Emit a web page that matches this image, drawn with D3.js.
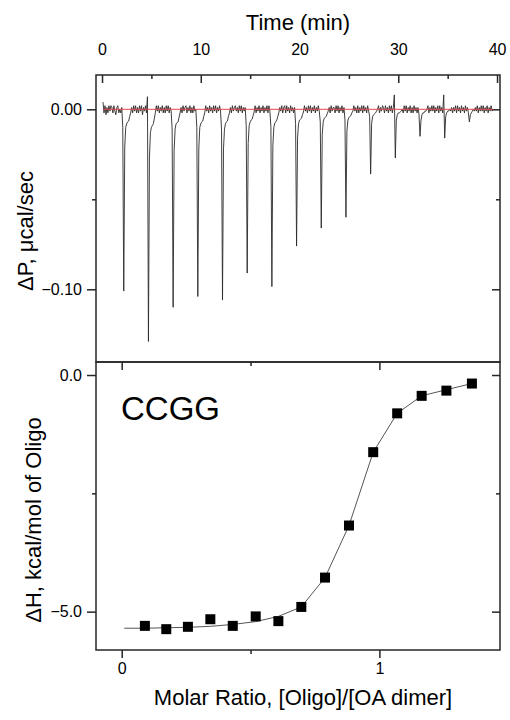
<!DOCTYPE html>
<html>
<head>
<meta charset="utf-8">
<script src="https://cdn.jsdelivr.net/npm/d3@7"></script>
<style>
  html, body { margin: 0; padding: 0; background: #fff; }
  svg { display: block; }
  text { font-family: "Liberation Sans", Arial, sans-serif; fill: #000; }
</style>
</head>
<body>
<svg id="chart" width="510" height="720"></svg>
<script>
// ---------------- DATA ----------------
// Top panel: raw thermogram, dP (ucal/sec) sampled every 0.1 min
const traceStart = 0.1;
const traceStep = 0.1;
const dpTrace = [
  // t = 0.1 .. 0.9
  0.004,-0.002,0.002,-0.003,0.001,-0.002,0.002,-0.001,0.002,
  // t = 1.0 .. 3.4 (injection 1)
  0.001,-0.002,0.002,-0.001,-0.003,0.001,0.002,-0.002,0.000,-0.002,0.001,-0.010,-0.101,-0.021,-0.010,-0.008,-0.007,-0.0065,-0.004,-0.002,0.001,-0.002,0.002,-0.001,0.002,
  // t = 3.5 .. 5.9 (injection 2)
  -0.002,0.001,-0.002,0.002,-0.001,0.002,-0.003,0.001,-0.001,0.002,-0.002,0.007,-0.129,-0.027,-0.013,-0.010,-0.009,-0.008,-0.005,-0.002,0.002,-0.001,0.002,-0.002,0.001,
  // injection 3
  -0.001,0.002,-0.002,0.001,-0.002,0.002,-0.001,0.002,-0.002,0.001,-0.001,-0.011,-0.110,-0.023,-0.011,-0.008,-0.0075,-0.007,-0.0045,-0.002,0.001,-0.002,0.002,-0.001,0.001,
  // injection 4
  0.002,-0.002,0.001,-0.001,0.002,-0.002,0.001,-0.002,0.002,-0.001,0.000,-0.010,-0.104,-0.022,-0.010,-0.008,-0.007,-0.0065,-0.004,-0.002,0.002,-0.001,0.001,-0.002,0.002,
  // injection 5
  -0.001,0.001,-0.002,0.002,-0.001,0.002,-0.002,0.001,-0.001,0.002,-0.001,-0.011,-0.106,-0.022,-0.011,-0.008,-0.007,-0.0065,-0.004,-0.002,0.001,-0.002,0.002,-0.001,0.001,
  // injection 6
  0.002,-0.001,0.001,-0.002,0.002,-0.001,0.002,-0.002,0.001,-0.001,0.001,-0.009,-0.091,-0.019,-0.009,-0.007,-0.006,-0.0055,-0.0035,-0.0015,0.002,-0.002,0.001,-0.001,0.002,
  // injection 7
  -0.002,0.001,-0.001,0.002,-0.002,0.001,-0.001,0.002,-0.002,0.002,-0.001,-0.010,-0.0985,-0.020,-0.010,-0.0075,-0.007,-0.006,-0.004,-0.002,0.001,-0.001,0.002,-0.002,0.001,
  // injection 8
  0.002,-0.002,0.002,-0.001,0.001,-0.002,0.002,-0.001,0.001,-0.002,0.001,-0.008,-0.076,-0.016,-0.008,-0.006,-0.0055,-0.005,-0.003,-0.0015,0.002,-0.001,0.001,-0.002,0.002,
  // injection 9
  -0.001,0.002,-0.002,0.001,-0.001,0.002,-0.002,0.001,-0.001,0.002,-0.001,-0.007,-0.066,-0.014,-0.007,-0.005,-0.0045,-0.004,-0.0025,-0.001,0.001,-0.002,0.002,-0.001,0.001,
  // injection 10
  0.001,-0.002,0.002,-0.001,0.002,-0.002,0.001,-0.001,0.002,-0.002,0.001,-0.006,-0.060,-0.012,-0.006,-0.0045,-0.004,-0.0035,-0.002,-0.001,0.002,-0.001,0.001,-0.002,0.002,
  // injection 11
  -0.002,0.001,-0.001,0.002,-0.002,0.002,-0.001,0.001,-0.002,0.002,-0.001,-0.004,-0.036,-0.008,-0.004,-0.003,-0.0025,-0.002,-0.001,0.000,0.002,-0.002,0.001,-0.001,0.002,
  // injection 12
  0.001,-0.002,0.002,-0.001,0.001,-0.002,0.002,-0.001,0.002,-0.002,0.001,0.008,-0.027,-0.006,-0.003,-0.002,-0.002,-0.0015,-0.001,0.000,-0.002,0.002,-0.001,0.002,-0.002,
  // injection 13
  0.001,-0.001,0.002,-0.002,0.001,-0.002,0.002,-0.001,0.001,-0.002,0.001,-0.003,-0.015,-0.006,-0.003,-0.002,-0.002,-0.001,-0.001,0.000,0.002,-0.002,0.001,-0.001,0.002,
  // injection 14
  -0.001,0.002,-0.002,0.001,-0.001,0.002,-0.002,0.002,-0.001,0.001,-0.002,0.008,-0.016,-0.004,-0.002,-0.001,-0.001,0.000,-0.001,0.001,-0.002,0.001,-0.001,0.002,-0.002,
  // injection 15
  0.002,-0.001,0.001,-0.002,0.002,-0.001,0.001,-0.002,0.002,-0.001,0.001,-0.002,-0.007,-0.003,-0.002,-0.001,0.000,-0.001,0.001,-0.001,0.002,-0.002,0.001,-0.001,0.002,
  // t = 38.5 .. 39.6
  -0.001,0.002,-0.002,0.001,-0.001,0.002,-0.002,0.001,-0.001,0.002,-0.001,0.000
];
const timeTicks = [0, 10, 20, 30, 40];
const timeMinorTicks = [5, 15, 25, 35];
const dpTicks = [0.00, -0.10];
const dpMinorTicks = [-0.05];

// Bottom panel: integrated heats
const molarRatio = [0.090,0.173,0.257,0.344,0.431,0.520,0.608,0.697,0.789,0.882,0.976,1.069,1.164,1.260,1.359];
const deltaH     = [-5.30,-5.37,-5.32,-5.16,-5.30,-5.10,-5.20,-4.90,-4.28,-3.18,-1.63,-0.81,-0.44,-0.33,-0.18];
const fitRatio   = [0.010,0.090,0.173,0.257,0.344,0.431,0.520,0.608,0.697,0.789,0.882,0.976,1.069,1.164,1.260,1.359];
const fitDeltaH  = [-5.35,-5.35,-5.34,-5.33,-5.31,-5.27,-5.21,-5.10,-4.90,-4.28,-3.18,-1.63,-0.81,-0.44,-0.31,-0.18];
const ratioTicks = [0, 1];
const ratioMinorTicks = [0.5];
const dhTicks = [0.0, -5.0];
const dhMinorTicks = [-2.5];
const sampleLabel = "CCGG";

// ---------------- LAYOUT ----------------
const svg = d3.select("#chart");
const L = 96, R = 500;
const topT = 75, mid = 362, botB = 650;
const frameColor = "#262626";

const xTime = d3.scaleLinear().domain([-0.61, 40.30]).range([L, R]);
const yDP = d3.scaleLinear().domain([-0.1404, 0.01906]).range([mid, topT]);
const xMR = d3.scaleLinear().domain([-0.0997, 1.468]).range([L, R]);
const yDH = d3.scaleLinear().domain([-5.81, 0.275]).range([botB, mid]);

function tickSet(g, scale, majors, minors, orient, len, lenMinor, fmt, showLabels) {
  const mk = (vals, l, labels) => {
    const ax = orient(scale).tickValues(vals).tickSize(l).tickPadding(5);
    ax.tickFormat(labels ? fmt : "");
    return ax;
  };
  g.append("g").call(mk(minors, lenMinor, false));
  g.append("g").call(mk(majors, len, showLabels));
  g.selectAll(".domain").remove();
  g.selectAll("line").attr("stroke", frameColor).attr("stroke-width", 1.5);
  g.selectAll("text").attr("font-size", 16).attr("fill", "#000")
    .attr("font-family", '"Liberation Sans", Arial, sans-serif');
}

// ---- top panel ----
const topPanel = svg.append("g");
// top axis: inward ticks (down), labels above
{
  const g = topPanel.append("g").attr("transform", `translate(0,${topT})`);
  // ticks inward
  const gi = g.append("g");
  gi.append("g").call(d3.axisBottom(xTime).tickValues(timeMinorTicks).tickSize(4).tickFormat(""));
  gi.append("g").call(d3.axisBottom(xTime).tickValues(timeTicks).tickSize(8).tickFormat(""));
  gi.selectAll(".domain").remove();
  gi.selectAll("line").attr("stroke", frameColor).attr("stroke-width", 1.5);
  // labels
  const gl = g.append("g");
  gl.call(d3.axisTop(xTime).tickValues(timeTicks).tickSize(0).tickPadding(20).tickFormat(d3.format("d")));
  gl.selectAll(".domain").remove();
  gl.selectAll("text").attr("font-size", 16).attr("fill", "#000")
    .attr("font-family", '"Liberation Sans", Arial, sans-serif');
}
// left axis: outward ticks
{
  const g = topPanel.append("g").attr("transform", `translate(${L},0)`);
  tickSet(g, yDP, dpTicks, dpMinorTicks, d3.axisLeft, 9, 4, d3.format(".2f"), true);
  g.selectAll("text").attr("x", -14);
}
// right axis: inward ticks
{
  const g = topPanel.append("g").attr("transform", `translate(${R},0)`);
  tickSet(g, yDP, dpTicks, dpMinorTicks, d3.axisLeft, 8, 4, null, false);
}

const tracePts = dpTrace.map((v, i) => [traceStart + i * traceStep, v]);
topPanel.append("path")
  .datum(tracePts)
  .attr("fill", "none")
  .attr("stroke", "#2a2a2a")
  .attr("stroke-width", 0.9)
  .attr("stroke-linejoin", "round")
  .attr("d", d3.line().x(d => xTime(d[0])).y(d => yDP(d[1])));
// baseline
topPanel.append("path")
  .datum([[tracePts[0][0], 0], [tracePts[tracePts.length - 1][0], 0]])
  .attr("fill", "none")
  .attr("stroke", "#e8474a")
  .attr("stroke-width", 1)
  .attr("d", d3.line().x(d => xTime(d[0])).y(d => yDP(d[1])));

topPanel.append("rect")
  .attr("x", L).attr("y", topT).attr("width", R - L).attr("height", mid - topT)
  .attr("fill", "none").attr("stroke", frameColor).attr("stroke-width", 1.5);

topPanel.append("text")
  .attr("x", 298).attr("y", 30).attr("text-anchor", "middle")
  .attr("font-size", 22).text("Time (min)");
topPanel.append("text")
  .attr("transform", "translate(33,231) rotate(-90)")
  .attr("text-anchor", "middle").attr("font-size", 22)
  .text("ΔP, μcal/sec");

// ---- bottom panel ----
const botPanel = svg.append("g");
// top edge inward ticks
{
  const g = botPanel.append("g").attr("transform", `translate(0,${mid})`);
  tickSet(g, xMR, ratioTicks, ratioMinorTicks, d3.axisBottom, 8, 4, null, false);
}
// bottom axis outward
{
  const g = botPanel.append("g").attr("transform", `translate(0,${botB})`);
  tickSet(g, xMR, ratioTicks, ratioMinorTicks, d3.axisBottom, 8, 4, d3.format("d"), true);
  g.selectAll("text").attr("y", 13);
}
// left axis outward
{
  const g = botPanel.append("g").attr("transform", `translate(${L},0)`);
  tickSet(g, yDH, dhTicks, dhMinorTicks, d3.axisLeft, 9, 4, d3.format(".1f"), true);
  g.selectAll("text").attr("x", -14);
}
// right axis inward
{
  const g = botPanel.append("g").attr("transform", `translate(${R},0)`);
  tickSet(g, yDH, dhTicks, dhMinorTicks, d3.axisLeft, 8, 4, null, false);
}

botPanel.append("path")
  .datum(fitRatio.map((x, i) => [x, fitDeltaH[i]]))
  .attr("fill", "none")
  .attr("stroke", "#555")
  .attr("stroke-width", 1)
  .attr("d", d3.line().x(d => xMR(d[0])).y(d => yDH(d[1])));

const sq = 10;
botPanel.selectAll("rect.pt")
  .data(molarRatio.map((x, i) => [x, deltaH[i]]))
  .enter().append("rect")
  .attr("class", "pt")
  .attr("x", d => xMR(d[0]) - sq / 2)
  .attr("y", d => yDH(d[1]) - sq / 2)
  .attr("width", sq).attr("height", sq)
  .attr("fill", "#000");

botPanel.append("rect")
  .attr("x", L).attr("y", mid).attr("width", R - L).attr("height", botB - mid)
  .attr("fill", "none").attr("stroke", frameColor).attr("stroke-width", 1.5);

botPanel.append("text")
  .attr("x", 121).attr("y", 420).attr("font-size", 33).text(sampleLabel);
botPanel.append("text")
  .attr("transform", "translate(41,520) rotate(-90)")
  .attr("text-anchor", "middle").attr("font-size", 22)
  .text("ΔH, kcal/mol of Oligo");
botPanel.append("text")
  .attr("x", 303).attr("y", 705).attr("text-anchor", "middle")
  .attr("font-size", 22).text("Molar Ratio, [Oligo]/[OA dimer]");
</script>
</body>
</html>
